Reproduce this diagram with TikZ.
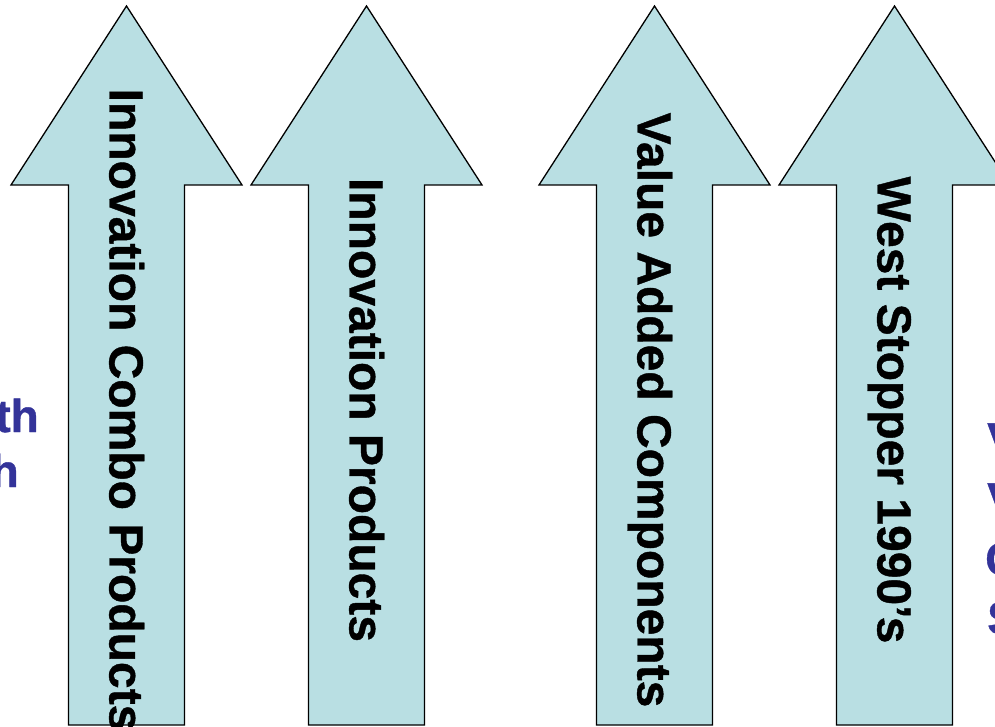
\documentclass[tikz,border=0pt]{standalone}
\usepackage{fontspec}
\setmainfont{Liberation Sans}
\newfontfamily\lsbold{Liberation Sans Bold}[FakeBold=0.8]
\definecolor{arrowfill}{RGB}{185,223,227}
\definecolor{sidetext}{RGB}{51,51,153}
\tikzset{
  uparrow/.style={draw=black, line width=1.3pt, fill=arrowfill, line join=miter},
  arrowlabel/.style={rotate=-90, anchor=base, inner sep=0pt, font=\lsbold\fontsize{48}{58}\selectfont},
  sidelabel/.style={inner sep=0pt, text=sidetext, font=\lsbold\fontsize{46}{55}\selectfont}
}
% #1 = centre x (in pt, image coords)
\newcommand{\drawuparrow}[1]{%
  \draw[uparrow] (#1-58,1) -- (#1-58,541) -- (#1-115.5,541) -- (#1,720)
    -- (#1+115.5,541) -- (#1+58,541) -- (#1+58,1) -- cycle;}
\begin{document}
\begin{tikzpicture}[x=1pt,y=1pt]
\useasboundingbox (0,0) rectangle (995,726);
\clip (0,0) rectangle (995,726);
\drawuparrow{126.5}
\drawuparrow{366.5}
\drawuparrow{654.5}
\drawuparrow{894.5}
\node[arrowlabel] (t1) at (126.5-17,316) {Innovation Combo Products};
\node[arrowlabel] (t2) at (366.5-17,316) {Innovation Products};
\node[arrowlabel] (t3) at (654.5-17,316) {Value Added Components};
\node[arrowlabel] (t4) at (894.5-17,316) {West Stopper 1990’s};
\node[sidelabel, anchor=base east] (l1) at (39,294) {th};
\node[sidelabel, anchor=base east] (l2) at (19,239) {h};
\node[sidelabel, anchor=base west] (r1) at (987,271) {V};
\node[sidelabel, anchor=base west] (r2) at (987,211) {V};
\node[sidelabel, anchor=base west] (r3) at (985,151) {C};
\node[sidelabel, anchor=base west] (r4) at (987,92) {S};
\end{tikzpicture}
\end{document}
